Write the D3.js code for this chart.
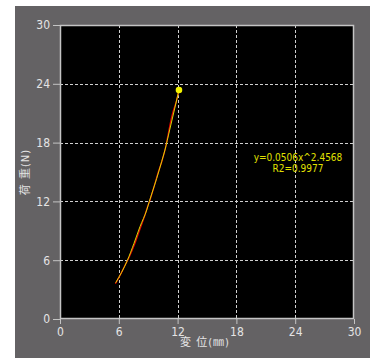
<!DOCTYPE html>
<html>
<head>
<meta charset="utf-8">
<script src="https://cdn.jsdelivr.net/npm/d3@7"></script>
<style>
  body { margin: 0; background: #fff; }
  svg { display: block; }
</style>
</head>
<body>
<svg id="svg" width="370" height="358"></svg>
<script>
// measured load / displacement (red)
const measX = [5.65, 6.1, 6.6, 7.1, 7.6, 8.1, 8.6, 8.95, 9.2, 9.6, 10.0, 10.4, 10.75, 11.05, 11.3, 11.55, 11.9, 12.14];
const measY = [3.6, 4.4, 5.4, 6.4, 7.6, 9.0, 10.4, 11.5, 12.2, 13.5, 14.9, 16.1, 17.4, 18.9, 20.2, 21.2, 22.3, 23.4];

// fitted curve (yellow)
const fitX = [5.68, 6.87, 7.55, 8.16, 8.85, 9.11, 9.87, 10.37, 10.71, 11.19, 11.67, 12.14];
const fitY = [3.70, 5.97, 7.72, 9.42, 11.12, 11.98, 14.36, 16.05, 17.24, 19.29, 21.33, 23.37];

const lastPoint = [12.14, 23.37];

const ticks = [0, 6, 12, 18, 24, 30];
const xTitle = "変 位(㎜)";
const yTitle = "荷 重(N)";
const eqLines = ["y=0.0506x^2.4568", "R2=0.9977"];

const svg = d3.select("#svg");
const font = "'Liberation Sans Narrow', 'DejaVu Sans Condensed', 'Noto Sans CJK JP', sans-serif";

// grey panel
svg.append("rect").attr("x", 15).attr("y", 6).attr("width", 355).attr("height", 352).attr("fill", "#646264");

const x = d3.scaleLinear().domain([0, 30]).range([60, 354]);
const y = d3.scaleLinear().domain([0, 30]).range([319, 25]);

// plot background
svg.append("rect")
    .attr("x", x(0)).attr("y", y(30))
    .attr("width", x(30) - x(0)).attr("height", y(0) - y(30))
    .attr("fill", "#000");

// grid
const inner = ticks.filter(d => d > 0 && d < 30);
svg.append("g").selectAll("line").data(inner).enter().append("line")
    .attr("x1", d => Math.round(x(d)) + 0.5).attr("x2", d => Math.round(x(d)) + 0.5)
    .attr("y1", y(30)).attr("y2", y(0))
    .attr("stroke", "#d0d0d0").attr("stroke-dasharray", "3,2");
svg.append("g").selectAll("line").data(inner).enter().append("line")
    .attr("y1", d => Math.round(y(d)) + 0.5).attr("y2", d => Math.round(y(d)) + 0.5)
    .attr("x1", x(0)).attr("x2", x(30))
    .attr("stroke", "#d0d0d0").attr("stroke-dasharray", "3,2");

// frame
svg.append("rect")
    .attr("x", x(0) + 0.5).attr("y", y(30) + 0.5)
    .attr("width", x(30) - x(0) - 1).attr("height", y(0) - y(30) - 1)
    .attr("fill", "none").attr("stroke", "#c4c4c4").attr("stroke-width", 1.5);

// axes
const xAxis = svg.append("g").attr("transform", `translate(0,${y(0)})`)
    .call(d3.axisBottom(x).tickValues(ticks).tickSize(5).tickPadding(3));
const yAxis = svg.append("g").attr("transform", `translate(${x(0)},0)`)
    .call(d3.axisLeft(y).tickValues(ticks).tickSize(7).tickPadding(3));
[xAxis, yAxis].forEach(a => {
    a.select(".domain").remove();
    a.selectAll("line").attr("stroke", "#c4c4c4");
    a.selectAll("text").attr("fill", "#e4e4e4").style("font-family", font).style("font-size", "12px");
});

// titles
svg.append("text").attr("x", 205).attr("y", 346).attr("text-anchor", "middle")
    .attr("fill", "#e4e4e4").style("font-family", font).style("font-size", "11px")
    .style("white-space", "pre").style("letter-spacing", "1px").text(xTitle);
svg.append("text").attr("transform", "translate(29,172) rotate(-90)").attr("text-anchor", "middle")
    .attr("fill", "#e4e4e4").style("font-family", font).style("font-size", "11px")
    .style("white-space", "pre").style("letter-spacing", "1px").text(yTitle);

// series
const line = d3.line().x(d => x(d[0])).y(d => y(d[1])).curve(d3.curveMonotoneX);
svg.append("path").datum(measX.map((v, i) => [v, measY[i]]))
    .attr("d", line).attr("fill", "none").attr("stroke", "#e00000").attr("stroke-width", 1.3);
svg.append("path").datum(fitX.map((v, i) => [v, fitY[i]]))
    .attr("d", line).attr("fill", "none").attr("stroke", "#d8d800").attr("stroke-width", 1);

svg.append("circle").attr("cx", x(lastPoint[0])).attr("cy", y(lastPoint[1])).attr("r", 3.3).attr("fill", "#f4f400");

// equation
svg.append("g").selectAll("text").data(eqLines).enter().append("text")
    .attr("x", 298).attr("y", (d, i) => 161 + i * 11)
    .attr("text-anchor", "middle")
    .attr("fill", "#e0e000").style("font-family", font).style("font-size", "10px")
    .text(d => d);
</script>
</body>
</html>
